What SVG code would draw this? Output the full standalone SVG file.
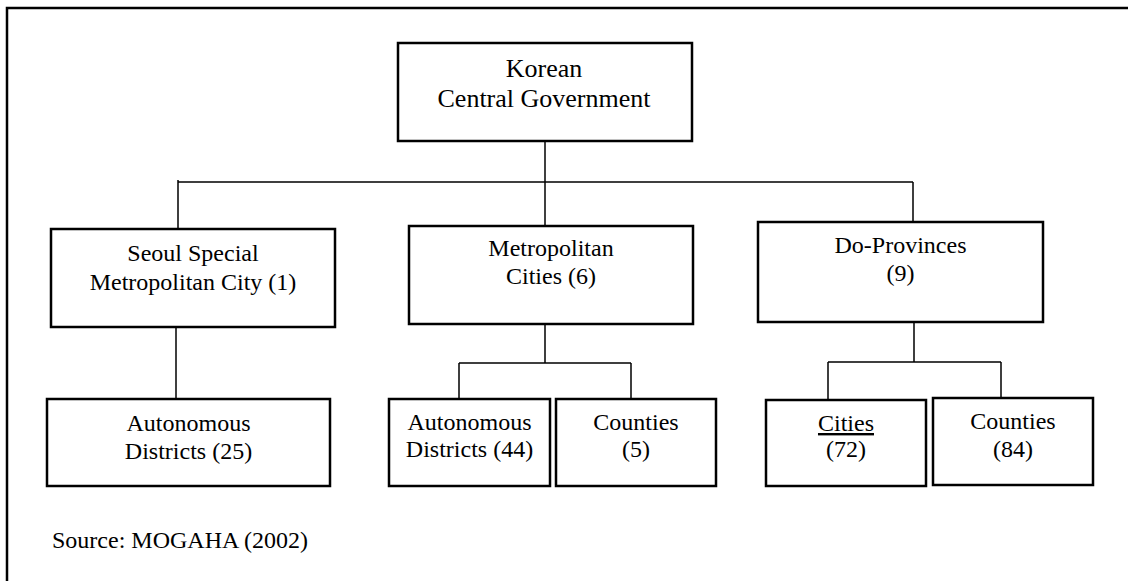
<svg xmlns="http://www.w3.org/2000/svg" width="1128" height="581" viewBox="0 0 1128 581">
<style>
.box{fill:#fff;stroke:#000;stroke-width:2.5}
.conn{fill:none;stroke:#000;stroke-width:1.5}
.frame{fill:none;stroke:#000;stroke-width:2.5}
text{font-family:"Liberation Serif","Times New Roman",serif;font-size:24px;fill:#000;text-anchor:middle}
.big{font-size:26px}
.src{text-anchor:start}
</style>
<rect width="1128" height="581" fill="#fff"/>
<path class="frame" d="M7,581 V8 H1128"/>
<g id="connectors">
<path class="conn" d="M545,141 V226"/>
<path class="conn" d="M178,180 V229 M178,182 H913 M913,182 V222"/>
<path class="conn" d="M176,327 V399"/>
<path class="conn" d="M545,324 V363 M459,363 H631 M459,363 V399 M631,363 V399"/>
<path class="conn" d="M914,322 V362 M828,362 H1001 M828,362 V400 M1001,362 V398"/>
</g>
<g id="gov">
<rect class="box" x="398" y="43" width="294" height="98"/>
<text class="big" x="544" y="77">Korean</text>
<text class="big" x="544" y="107">Central Government</text>
</g>
<g id="seoul">
<rect class="box" x="51" y="229" width="284" height="98"/>
<text x="193" y="261">Seoul Special</text>
<text x="193" y="290">Metropolitan City (1)</text>
</g>
<g id="metro">
<rect class="box" x="409" y="226" width="284" height="98"/>
<text x="551" y="256">Metropolitan</text>
<text x="551" y="284">Cities (6)</text>
</g>
<g id="prov">
<rect class="box" x="758" y="222" width="285" height="100"/>
<text x="900.5" y="253">Do-Provinces</text>
<text x="900.5" y="281">(9)</text>
</g>
<g id="ad25">
<rect class="box" x="47" y="399" width="283" height="87"/>
<text x="188.5" y="431">Autonomous</text>
<text x="188.5" y="459">Districts (25)</text>
</g>
<g id="ad44">
<rect class="box" x="389" y="399" width="161" height="87"/>
<text x="469.5" y="430">Autonomous</text>
<text x="469.5" y="457">Districts (44)</text>
</g>
<g id="c5">
<rect class="box" x="556" y="399" width="160" height="87"/>
<text x="636" y="430">Counties</text>
<text x="636" y="457">(5)</text>
</g>
<g id="c72">
<rect class="box" x="766" y="400" width="160" height="86"/>
<text x="846" y="431" text-decoration="underline">Cities</text>
<text x="846" y="457">(72)</text>
</g>
<g id="c84">
<rect class="box" x="933" y="398" width="160" height="87"/>
<text x="1013" y="429">Counties</text>
<text x="1013" y="457">(84)</text>
</g>
<g id="source">
<text class="src" x="52" y="548">Source: MOGAHA (2002)</text>
</g>
</svg>
